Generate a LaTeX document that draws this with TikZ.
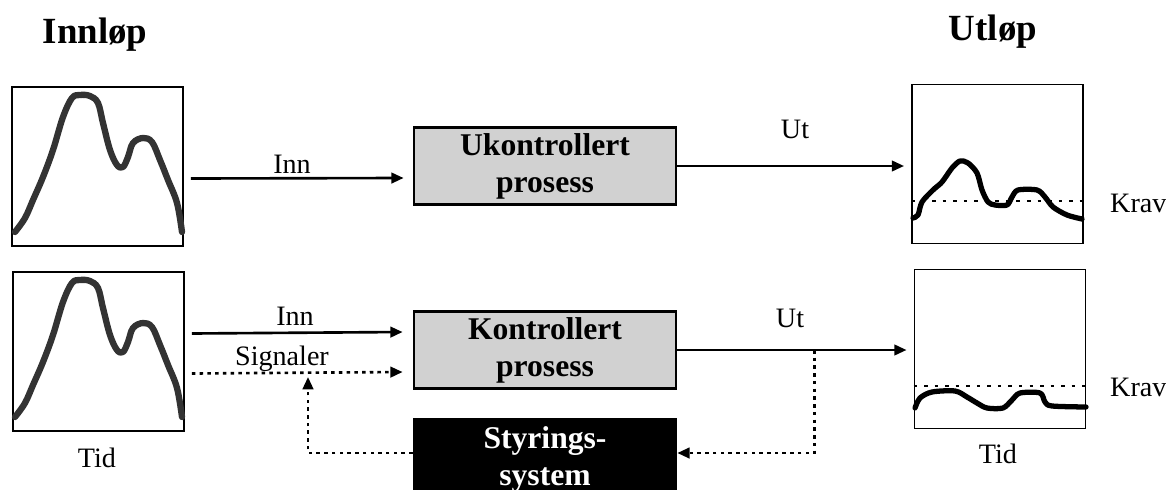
\documentclass[tikz,border=0pt]{standalone}
\usepackage{fontspec}
\setmainfont{Liberation Serif}
\usepackage{tikz}
\usetikzlibrary{arrows.meta, positioning, calc}

\tikzset{
    plotbox/.style={draw, line width=1.1pt, minimum width=3.42cm, minimum height=3.18cm, inner sep=0pt},
    procbox/.style={draw, line width=1.6pt, fill=black!18, minimum width=5.24cm, minimum height=1.54cm,
        align=center, font=\fontsize{18}{21}\selectfont\bfseries},
    ctrlbox/.style={fill=black, text=white, minimum width=5.28cm, minimum height=1.66cm,
        align=center, font=\fontsize{18}{21}\selectfont\bfseries},
    flow/.style={line width=1.5pt, -{Triangle[length=7pt, width=6pt]}},
    signal/.style={line width=1.5pt, dash pattern=on 2pt off 2.4pt, -{Triangle[length=7pt, width=6pt]}},
    lbl/.style={anchor=base, font=\fontsize{16}{19}\selectfont},
    heading/.style={anchor=base, font=\fontsize{21}{25}\selectfont\bfseries}
}

\begin{document}
\begin{tikzpicture}[x=0.02cm, y=-0.02cm]
    \useasboundingbox (0,0) rectangle (1166,490);

    % Headings
    \node[heading] (hin) at (95,43) {Innløp};
    \node[heading] (hut) at (993,40) {Utløp};

    % Inflow and outflow plots
    \node[plotbox] (in1) at (97.5,166.5) {};
    \node[plotbox] (in2) at (98.5,351.5) {};
    \node[plotbox] (out1) at (997.5,164) {};
    \node[plotbox] (out2) at (1000,349) {};

    % Inflow curve (same in both rows)
    \newcommand{\inflowcurve}{%
        \draw[line width=3.6pt, black!80, line cap=round, line join=round]
            plot[smooth, tension=0.6] coordinates {(15,232) (25,218) (33,200) (43,177) (53,150)
            (63,117) (72,98) (80,95) (90,96) (98,103) (103,123) (110,150) (117,165) (123,167)
            (128,157) (133,143) (143,138) (152,142) (160,160) (168,180) (177,203) (182,232)};}
    \inflowcurve
    \begin{scope}[shift={(0,185)}]
        \inflowcurve
    \end{scope}

    % Outflow curves
    \draw[line width=3pt, line cap=round, line join=round]
        plot[smooth, tension=0.5] coordinates {(913,218) (918,215) (922,202) (933,190) (942,182)
        (952,168) (960,161) (968,163) (977,173) (982,190) (988,202) (995,205) (1007,205)
        (1012,197) (1018,190) (1037,190) (1045,197) (1053,207) (1067,215) (1082,219)};
    \draw[line width=3pt, line cap=round, line join=round]
        plot[smooth, tension=0.5] coordinates {(915,408) (920,398) (932,392) (955,391) (967,397)
        (977,403) (987,408) (1003,408) (1012,400) (1020,393) (1040,393) (1045,402)
        (1052,406) (1086,407)};

    % Requirement lines
    \draw[line width=1.2pt, dash pattern=on 2pt off 4pt] ($(out1.west)+(0,37)$) -- ($(out1.east)+(0,37)$);
    \draw[line width=1.2pt, dash pattern=on 2pt off 4pt] ($(out2.west)+(0,37)$) -- ($(out2.east)+(0,37)$);
    \node[lbl, anchor=base west] (krav1) at (1104,212) {Krav};
    \node[lbl, anchor=base west] (krav2) at (1104,396) {Krav};

    % Processes
    \node[procbox] (ukp) at (545,166) {Ukontrollert\\prosess};
    \node[procbox] (kp) at (545,350) {Kontrollert\\prosess};
    \node[ctrlbox] (sty) at (545,459) {Styrings-\\system};

    % Top row
    \draw[flow] ($(in1.east)+(7,12)$) -- ($(ukp.west)+(-9,12)$);
    \node[lbl] (inn1) at (292,173) {Inn};
    \draw[flow, shorten >=0.14cm] (ukp.east) -- (ukp.east -| out1.west);
    \node[lbl] (ut1) at (795,138) {Ut};

    % Bottom row
    \draw[flow] ($(in2.east)+(7,-18)$) -- ($(kp.west)+(-10,-18)$);
    \node[lbl] (inn2) at (295,325) {Inn};
    \draw[signal] ($(in2.east)+(7,22)$) -- ($(kp.west)+(-10,22)$);
    \node[lbl] (sig) at (282,365) {Signaler};
    \draw[flow, shorten >=0.14cm] (kp.east) -- (kp.east -| out2.west);
    \node[lbl] (ut2) at (790,327) {Ut};

    % Feedback loop
    \coordinate (tap) at ($(kp.east)+(137,0)$);
    \coordinate (fb) at (308,377);
    \draw[signal] (tap) |- ($(sty.east)+(0,-6)$);
    \draw[signal] ($(sty.west)+(0,-6)$) -| (fb);

    % Time labels
    \node[lbl] (tid1) at (97,467) {Tid};
    \node[lbl] (tid2) at (998,463) {Tid};
\end{tikzpicture}
\end{document}
